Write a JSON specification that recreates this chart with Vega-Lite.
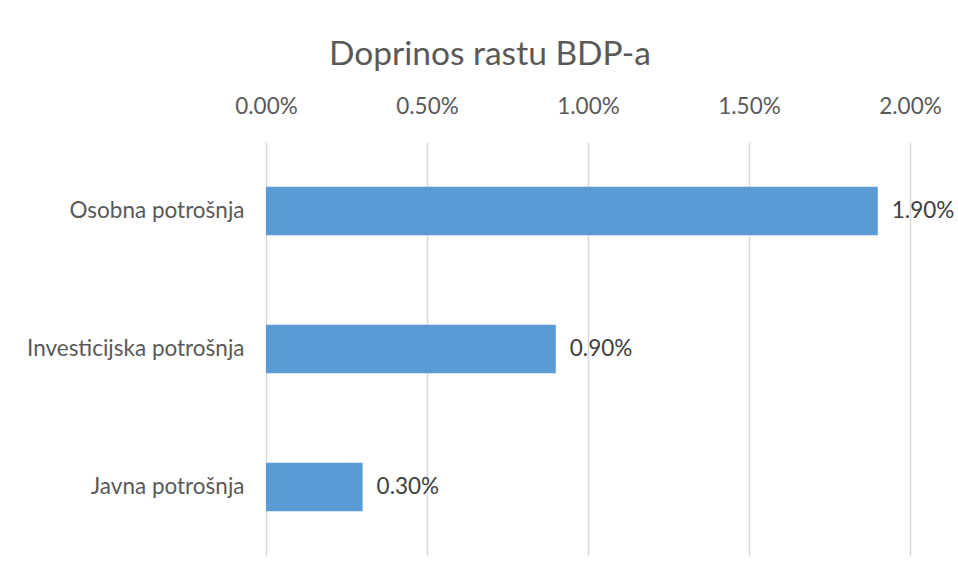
{
  "$schema": "https://vega.github.io/schema/vega-lite/v6.json",
  "width": 644,
  "height": 414,
  "autosize": {"type": "none"},
  "padding": {"left": 266, "top": 142, "right": 48, "bottom": 25},
  "background": "white",
  "config": {"view": {"stroke": null}, "font": "Lato"},
  "title": {
    "text": "Doprinos rastu BDP-a",
    "fontSize": 33.5,
    "font": "Lato",
    "fontWeight": "normal",
    "color": "#595959",
    "anchor": "middle",
    "dx": -98,
    "offset": 23
  },
  "data": {
    "values": [
      {"kategorija": "Osobna potrošnja", "doprinos": 0.019},
      {"kategorija": "Investicijska potrošnja", "doprinos": 0.009},
      {"kategorija": "Javna potrošnja", "doprinos": 0.003}
    ]
  },
  "encoding": {
    "y": {
      "field": "kategorija",
      "type": "nominal",
      "sort": null,
      "scale": {"paddingInner": 0.65, "paddingOuter": 0.325},
      "axis": {
        "title": null,
        "domain": false,
        "ticks": false,
        "labelFontSize": 22.5,
        "labelFont": "Lato",
        "labelColor": "#595959",
        "labelPadding": 22,
        "labelLimit": 400
      }
    },
    "x": {
      "field": "doprinos",
      "type": "quantitative",
      "scale": {"domain": [0, 0.02], "nice": false},
      "axis": {
        "orient": "top",
        "title": null,
        "format": ".2%",
        "values": [0, 0.005, 0.01, 0.015, 0.02],
        "domain": false,
        "ticks": false,
        "grid": true,
        "gridColor": "#D9D9D9",
        "gridWidth": 1.5,
        "labelFlush": false,
        "labelFontSize": 22.5,
        "labelFont": "Lato",
        "labelColor": "#595959",
        "labelPadding": 24
      }
    }
  },
  "layer": [
    {"mark": {"type": "bar", "color": "#5B9BD5"}},
    {
      "mark": {"type": "text", "align": "left", "dx": 14, "fontSize": 22.5, "font": "Lato", "color": "#404040"},
      "encoding": {"text": {"field": "doprinos", "type": "quantitative", "format": ".2%"}}
    }
  ]
}
